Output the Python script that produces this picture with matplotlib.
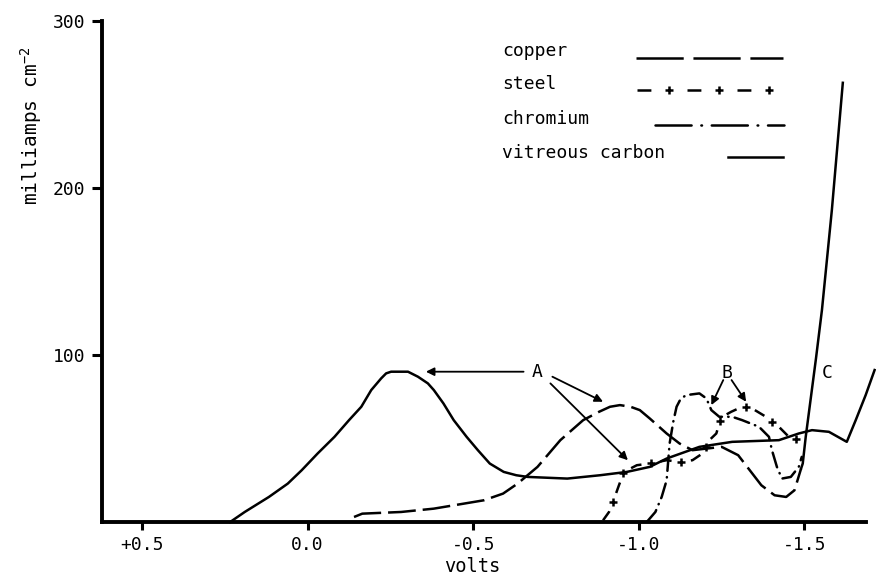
import numpy as np
import matplotlib
matplotlib.use("Agg")
import matplotlib.pyplot as plt

# ---- data (volts, milliamps cm^-2) ----
carbon_v = [0.234, 0.190, 0.117, 0.060, 0.018, -0.030, -0.081, -0.125, -0.162, -0.192,
            -0.222, -0.237, -0.252, -0.303, -0.333, -0.363, -0.381, -0.410, -0.441,
            -0.480, -0.514, -0.550, -0.592, -0.630, -0.664, -0.784, -0.883, -0.964,
            -1.033, -1.084, -1.183, -1.282, -1.423, -1.483, -1.523, -1.574, -1.628,
            -1.655, -1.685, -1.712]
carbon_i = [0, 6, 15, 23, 31, 41, 51, 61, 69, 79, 86, 89, 90, 90, 87, 83, 79, 71, 61,
            51, 43, 35, 30, 28, 27, 26, 28, 30, 33, 38, 45, 48, 49, 53, 55, 54, 48,
            61, 76, 91]

copper_v = [-0.140, -0.165, -0.282, -0.381, -0.532, -0.590, -0.634, -0.694, -0.763,
            -0.832, -0.880, -0.913, -0.943, -0.975, -1.003, -1.033, -1.084, -1.123,
            -1.162, -1.25, -1.30, -1.335, -1.37, -1.41, -1.445, -1.47, -1.49]
copper_i = [3, 5, 6, 8, 13, 17, 23, 33, 49, 61, 66, 69, 70, 69, 67, 62, 53, 47, 43,
            45, 40, 31, 22, 16, 15, 19, 32]

rise_v = [-1.49, -1.495, -1.504, -1.535, -1.553, -1.583, -1.616]
rise_i = [32, 35, 51, 98, 127, 187, 263]

steel_v = [-0.892, -0.910, -0.922, -0.940, -0.955, -0.994, -1.033, -1.084, -1.123,
           -1.162, -1.192, -1.213, -1.234, -1.243, -1.252, -1.279, -1.312, -1.342,
           -1.384, -1.423, -1.453, -1.483, -1.50]
steel_i = [1, 6, 12, 22, 30, 34, 35, 37, 36, 37, 41, 49, 53, 59, 63, 66, 69, 68,
           63, 57, 51, 49, 51]

chromium_v = [-1.024, -1.050, -1.069, -1.084, -1.093, -1.104, -1.114, -1.127, -1.144,
              -1.183, -1.204, -1.219, -1.243, -1.282, -1.312, -1.363, -1.393, -1.402,
              -1.417, -1.432, -1.459, -1.483, -1.492]
chromium_i = [0, 6, 15, 25, 47, 60, 69, 74, 76, 77, 74, 67, 63, 63, 61, 57, 51, 43,
              33, 26, 27, 33, 39]

x_ticks = [0.5, 0.0, -0.5, -1.0, -1.5]
x_tick_labels = ["+0.5", "0.0", "-0.5", "-1.0", "-1.5"]
y_ticks = [100, 200, 300]
y_tick_labels = ["100", "200", "300"]
series_names = ["copper", "steel", "chromium", "vitreous carbon"]

# ---- style ----
plt.rcParams["font.family"] = ["DejaVu Sans Mono"]
plt.rcParams["mathtext.fontset"] = "custom"
plt.rcParams["mathtext.rm"] = "DejaVu Sans Mono"
plt.rcParams["mathtext.default"] = "regular"
plt.rcParams["lines.scale_dashes"] = False

W, H, DPI = 876, 575, 100
fig = plt.figure(figsize=(W / DPI, H / DPI), dpi=DPI)
ax = fig.add_axes([102 / W, 53 / H, 764 / W, 501 / H])
ax.set_xlim(0.621, -1.686)
ax.set_ylim(0, 300)

for side in ("top", "right"):
    ax.spines[side].set_visible(False)
for side in ("left", "bottom"):
    ax.spines[side].set_linewidth(2.8)
    ax.spines[side].set_capstyle("projecting")

ax.set_xticks(x_ticks)
ax.set_xticklabels(x_tick_labels)
ax.set_yticks(y_ticks)
ax.set_yticklabels(y_tick_labels)
ax.tick_params(axis="both", direction="out", width=2.2, labelsize=13, colors="black")
ax.tick_params(axis="x", length=6, pad=4)
ax.tick_params(axis="y", length=7, pad=5)

LW = 1.8
COPPER_DASH = (20, 5)
STEEL_DASH = (8, 14)
CHROM_DASH = (11, 4.5, 0.3, 4.5)


def gap_marks(xs, ys, on, off, transform):
    """Positions half-way through each gap of a dashed path (display space)."""
    pts = transform.transform(np.column_stack([xs, ys]))
    seg = np.hypot(*np.diff(pts, axis=0).T)
    cum = np.concatenate([[0.0], np.cumsum(seg)])
    k = DPI / 72.0
    s = np.arange((on + off / 2.0) * k, cum[-1], (on + off) * k)
    mx = np.interp(s, cum, pts[:, 0])
    my = np.interp(s, cum, pts[:, 1])
    return transform.inverted().transform(np.column_stack([mx, my]))


# vitreous carbon (solid)
ax.plot(carbon_v, carbon_i, color="black", lw=LW, solid_joinstyle="round", clip_on=False)
# copper (long dashes) and the steep rise
ax.plot(copper_v, copper_i, color="black", lw=LW, dashes=COPPER_DASH, dash_capstyle="butt")
ax.plot(rise_v, rise_i, color="black", lw=LW, solid_joinstyle="round")
# steel (dashes with crosses)
ax.plot(steel_v, steel_i, color="black", lw=LW, dashes=STEEL_DASH, dash_capstyle="butt")
m = gap_marks(steel_v, steel_i, *STEEL_DASH, ax.transData)
ax.plot(m[:, 0], m[:, 1], ls="none", marker="+", ms=6, mew=1.8, color="black")
# chromium (dash-dot)
ax.plot(chromium_v, chromium_i, color="black", lw=LW, dashes=CHROM_DASH, dash_capstyle="round")

# ---- key ----
def fx(px):
    return (px - 102) / 764.0


def fy(py):
    return (522 - py) / 501.0


key_text_y = [51, 84, 119, 153]
for name, ty in zip(series_names, key_text_y):
    ax.text(fx(502), fy(ty), name, transform=ax.transAxes, fontsize=13,
            ha="left", va="center")

ax.plot([fx(636), fx(783)], [fy(58), fy(58)], transform=ax.transAxes, color="black",
        lw=LW, dashes=(34, 7), dash_capstyle="butt", clip_on=False)
ax.plot([fx(637), fx(784)], [fy(90), fy(90)], transform=ax.transAxes, color="black",
        lw=LW, dashes=(10, 26), dash_capstyle="butt", clip_on=False)
km = gap_marks([fx(637), fx(784)], [fy(90), fy(90)], 10, 26, ax.transAxes)
ax.plot(km[:, 0], km[:, 1], transform=ax.transAxes, ls="none", marker="+", ms=6,
        mew=1.8, color="black", clip_on=False)
ax.plot([fx(655), fx(784)], [fy(125), fy(125)], transform=ax.transAxes, color="black",
        lw=LW, dashes=(26, 7, 0.5, 7), dash_capstyle="round", clip_on=False)
ax.plot([fx(728), fx(783)], [fy(157), fy(157)], transform=ax.transAxes, color="black",
        lw=LW, clip_on=False)

# ---- annotations ----
arrow = dict(arrowstyle="-|>", color="black", lw=1.3, mutation_scale=12,
             shrinkA=0, shrinkB=0)
ax.text(-0.694, 90, "A", fontsize=13, ha="center", va="center")
ax.annotate("", xy=(-0.357, 90), xytext=(-0.652, 90), arrowprops=arrow)
ax.annotate("", xy=(-0.892, 72), xytext=(-0.739, 87), arrowprops=arrow)
ax.annotate("", xy=(-0.967, 37), xytext=(-0.733, 83), arrowprops=arrow)

ax.text(-1.267, 89, "B", fontsize=13, ha="center", va="center")
ax.annotate("", xy=(-1.219, 70), xytext=(-1.255, 85), arrowprops=arrow)
ax.annotate("", xy=(-1.324, 72), xytext=(-1.280, 85), arrowprops=arrow)

ax.text(-1.568, 89, "C", fontsize=13, ha="center", va="center")

# ---- axis titles ----
fig.text(472 / W, 1 - 566 / H, "volts", fontsize=13.5, ha="center", va="center")
fig.text(31 / W, 1 - 126 / H, "milliamps cm$^{-2}$", fontsize=14, rotation=90,
         ha="center", va="center")

fig.savefig("out.png", dpi=DPI, facecolor="white")
